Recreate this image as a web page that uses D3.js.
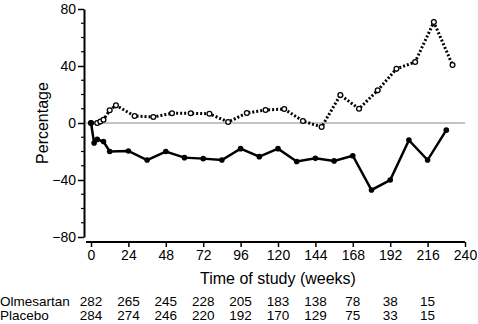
<!DOCTYPE html>
<meta charset="utf-8">
<head>
  <script src="https://d3js.org/d3.v7.min.js"></script>
  <style>
    body { margin: 0; background: #fff; }
    text { font-family: "Liberation Sans", Arial, sans-serif; fill: #000; }
  </style>
</head>
<div id="chart"></div>
<script>
  // olmesartan group (solid line, filled dots)
  var olmWeeks = [0, 2, 4, 8, 12, 24, 36, 48, 60, 72, 84, 96, 108, 120, 132, 144, 156, 168, 180, 192, 204, 216, 228]
  var olmValues = [0, -14, -11.5, -13, -20, -19.6, -26, -20, -24.3, -25, -26, -18, -23.6, -18, -27, -24.8, -26.6, -23, -47, -40, -12, -26, -5]

  // placebo group (dotted line, open dots)
  var plaWeeks = [0, 4, 6, 8, 12, 16, 28, 40, 52, 64, 76, 88, 100, 112, 124, 136, 148, 160, 172, 184, 196, 208, 220, 232]
  var plaValues = [0, 0, 1, 2.3, 8.9, 12.4, 4.9, 4.2, 6.8, 6.8, 6.5, 0.7, 7, 9.1, 9.8, 1.4, -2.8, 19.6, 10, 22.9, 38, 42.8, 70.8, 40.7]

  var xTicks = [0, 24, 48, 72, 96, 120, 144, 168, 192, 216, 240]
  var yTicks = [-80, -40, 0, 40, 80]

  // patients at risk
  var riskWeeks = [0, 24, 48, 72, 96, 120, 144, 168, 192, 216]
  var olmAtRisk = [282, 265, 245, 228, 205, 183, 138, 78, 38, 15]
  var plaAtRisk = [284, 274, 246, 220, 192, 170, 129, 75, 33, 15]

  var width = 478, height = 324

  var svg = d3.select("#chart").append("svg")
    .attr("width", width)
    .attr("height", height)

  var x = d3.scaleLinear().domain([0, 240]).range([91, 465])
  var y = d3.scaleLinear().domain([-80, 80]).range([237, 9])

  // y axis
  var yAxis = svg.append("g")
    .attr("transform", "translate(84,0)")
    .call(d3.axisLeft(y).tickValues(yTicks).tickSize(6).tickSizeOuter(0).tickFormat(d => d < 0 ? "\u2212" + Math.abs(d) : d))
  yAxis.select(".domain").attr("stroke-width", 2)
  yAxis.selectAll(".tick line").attr("stroke-width", 1.5)
  yAxis.selectAll("text").style("font-size", "14px").attr("x", -8)

  // minor ticks on y
  svg.append("g").selectAll("line")
    .data(d3.range(-80, 81, 10).filter(d => d % 40 != 0))
    .join("line")
      .attr("x1", 81).attr("x2", 84)
      .attr("y1", d => y(d)).attr("y2", d => y(d))
      .attr("stroke", "#000").attr("stroke-width", 1.2)

  // x axis
  var xAxis = svg.append("g")
    .attr("transform", "translate(0,242)")
    .call(d3.axisBottom(x).tickValues(xTicks).tickSize(5).tickSizeOuter(0))
  xAxis.select(".domain").attr("d", "M86,0H465").attr("stroke-width", 2)
  xAxis.selectAll(".tick line").attr("stroke-width", 1.5)
  xAxis.selectAll("text").style("font-size", "14px").attr("y", 8)

  // zero line
  svg.append("line")
    .attr("x1", 85).attr("x2", 465)
    .attr("y1", y(0)).attr("y2", y(0))
    .attr("stroke", "#888").attr("stroke-width", 1.2)

  var plaData = plaWeeks.map((w, i) => [w, plaValues[i]])
  var olmData = olmWeeks.map((w, i) => [w, olmValues[i]])

  var line = d3.line().x(d => x(d[0])).y(d => y(d[1]))

  svg.append("path")
    .attr("d", line(plaData))
    .attr("fill", "none")
    .attr("stroke", "#000")
    .attr("stroke-width", 3)
    .attr("stroke-dasharray", "2,2")

  svg.append("g").selectAll("circle")
    .data(plaData)
    .join("circle")
      .attr("cx", d => x(d[0]))
      .attr("cy", d => y(d[1]))
      .attr("r", 2.4)
      .attr("fill", "#fff")
      .attr("stroke", "#000")
      .attr("stroke-width", 1.3)

  svg.append("path")
    .attr("d", line(olmData))
    .attr("fill", "none")
    .attr("stroke", "#000")
    .attr("stroke-width", 2.5)

  svg.append("g").selectAll("circle")
    .data(olmData)
    .join("circle")
      .attr("cx", d => x(d[0]))
      .attr("cy", d => y(d[1]))
      .attr("r", 2.8)
      .attr("fill", "#000")

  // axis titles
  svg.append("text")
    .attr("x", 278).attr("y", 284)
    .attr("text-anchor", "middle")
    .style("font-size", "16px")
    .text("Time of study (weeks)")

  svg.append("text")
    .attr("transform", "translate(48,123) rotate(-90)")
    .attr("text-anchor", "middle")
    .style("font-size", "16px")
    .text("Percentage")

  // at-risk table
  var rows = [["Olmesartan", olmAtRisk, 306], ["Placebo", plaAtRisk, 320]]
  rows.forEach(r => {
    svg.append("text")
      .attr("x", 0).attr("y", r[2])
      .style("font-size", "13.5px")
      .text(r[0])
    svg.append("g").selectAll("text")
      .data(r[1])
      .join("text")
        .attr("x", (d, i) => x(riskWeeks[i]))
        .attr("y", r[2])
        .attr("text-anchor", "middle")
        .style("font-size", "13.5px")
        .text(d => d)
  })
</script>
